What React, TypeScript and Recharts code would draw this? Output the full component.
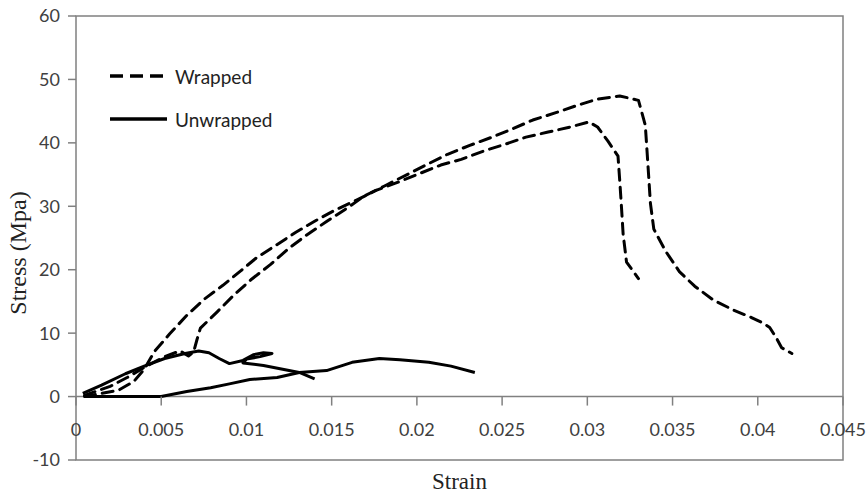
import React from "react";
import {
  LineChart,
  Line,
  XAxis,
  YAxis,
  ReferenceLine,
  ReferenceArea,
  Legend,
} from "recharts";

const CHART_W = 866;
const CHART_H = 495;
const MARGIN = { top: 16, right: 23, bottom: 0, left: 16 };
const Y_AXIS_W = 60;
const X_AXIS_H = 35;
const Y_MIN = -10;
const Y_MAX = 60;
const X_MAX = 0.045;
const PLOT_H = CHART_H - MARGIN.top - MARGIN.bottom - X_AXIS_H;
// distance from the plot bottom (-10) up to the zero line, where the x ticks sit
const ZERO_FROM_BOTTOM = (PLOT_H * (0 - Y_MIN)) / (Y_MAX - Y_MIN);

const AXIS = "#808080";
const TEXT = "#404040";
const SANS = "Lato, 'Open Sans', sans-serif";
const SERIF = "'Liberation Serif', 'DejaVu Serif', serif";

const xTicks = [0, 0.005, 0.01, 0.015, 0.02, 0.025, 0.03, 0.035, 0.04, 0.045];
const yTicks = [-10, 0, 10, 20, 30, 40, 50, 60];

// wrapped specimen 1 (lower peak)
const wrapped1Strain = [
  0.0005, 0.0025, 0.0034, 0.004, 0.0046, 0.0055, 0.0065, 0.0075, 0.0086, 0.0097,
  0.0106, 0.0117, 0.0129, 0.0141, 0.0152, 0.0164, 0.0176, 0.0189, 0.0201, 0.0214,
  0.0226, 0.0239, 0.0252, 0.0264, 0.0277, 0.029, 0.0301, 0.0306, 0.0312, 0.0318,
  0.0319, 0.032, 0.0321, 0.0323, 0.033,
];
const wrapped1Stress = [
  0, 1.0, 2.4, 4.3, 7.1, 9.9, 12.8, 15.3, 17.5, 19.9,
  21.9, 23.8, 25.9, 27.8, 29.4, 30.9, 32.5, 33.8, 35.1, 36.5,
  37.4, 38.7, 39.8, 40.9, 41.7, 42.5, 43.3, 42.5, 40.3, 37.9,
  34.1, 30.0, 25.6, 21.2, 18.6,
];

// wrapped specimen 2 (upper peak, long softening tail)
const wrapped2Strain = [
  0.0005, 0.002, 0.003, 0.004, 0.0052, 0.0061, 0.0066, 0.0069, 0.0071, 0.0073,
  0.0083, 0.0093, 0.0103, 0.0114, 0.0125, 0.0135, 0.0147, 0.0159, 0.0169, 0.0181,
  0.0195, 0.0206, 0.0218, 0.0231, 0.0244, 0.0256, 0.0268, 0.0282, 0.0294, 0.0306,
  0.0319, 0.033, 0.0334, 0.0335, 0.0336, 0.0337, 0.0339, 0.0346, 0.0354, 0.0363,
  0.0374, 0.0386, 0.0396, 0.0403, 0.0407, 0.0411, 0.0414, 0.042,
];
const wrapped2Stress = [
  0.2, 1.6, 3.0, 4.6, 6.3, 7.2, 6.4, 7.0, 9.0, 10.8,
  13.4, 16.1, 18.5, 20.8, 23.4, 25.4, 27.6, 29.7, 31.6, 33.2,
  35.1, 36.6, 38.2, 39.6, 40.9, 42.2, 43.6, 44.8, 45.9, 46.9,
  47.4, 46.7, 42.8, 38.8, 34.7, 30.5, 26.4, 22.9, 19.7, 17.4,
  15.2, 13.6, 12.5, 11.6, 10.9, 9.2, 7.7, 6.8,
];

// unwrapped specimen 1 (loops back near 0.011)
const unwrapped1Strain = [
  0.0004, 0.0015, 0.0029, 0.004, 0.0052, 0.0064, 0.0072, 0.0078, 0.0084, 0.009,
  0.0098, 0.0104, 0.011, 0.0115, 0.0108, 0.01, 0.0098, 0.011, 0.0125, 0.0131, 0.014,
];
const unwrapped1Stress = [
  0.5, 1.8, 3.6, 4.8, 6.0, 6.8, 7.2, 6.9, 6.0, 5.2,
  5.7, 6.6, 6.9, 6.8, 6.3, 5.9, 5.3, 4.9, 4.1, 3.8, 2.8,
];

// unwrapped specimen 2
const unwrapped2Strain = [
  0.0005, 0.003, 0.005, 0.0065, 0.0079, 0.009, 0.0102, 0.0118, 0.0131, 0.0147,
  0.0162, 0.0178, 0.019, 0.0207, 0.022, 0.0234,
];
const unwrapped2Stress = [
  0, 0, 0, 0.8, 1.4, 2.0, 2.7, 3.0, 3.8, 4.1,
  5.4, 6.0, 5.8, 5.4, 4.8, 3.8,
];

const legendItems = [
  { name: "Wrapped", dashed: true },
  { name: "Unwrapped", dashed: false },
];

const zip = (xs: number[], ys: number[]) => xs.map((x, i) => ({ x, y: ys[i] }));

const series = [
  { key: "w1", data: zip(wrapped1Strain, wrapped1Stress), dashed: true },
  { key: "w2", data: zip(wrapped2Strain, wrapped2Stress), dashed: true },
  { key: "u1", data: zip(unwrapped1Strain, unwrapped1Stress), dashed: false },
  { key: "u2", data: zip(unwrapped2Strain, unwrapped2Stress), dashed: false },
];

const XTick = (props: any) => {
  const { x, y, payload } = props;
  const y0 = y - ZERO_FROM_BOTTOM;
  return (
    <g>
      <line x1={x} x2={x} y1={y0} y2={y0 + 9} stroke={AXIS} strokeWidth={1.5} />
      <text
        x={x}
        y={y0 + 32}
        textAnchor="middle"
        dominantBaseline="central"
        fill={TEXT}
        fontSize={18}
        fontFamily={SANS}
      >
        {payload.value}
      </text>
    </g>
  );
};

const LegendBox = () => (
  <svg width={190} height={80}>
    {legendItems.map((item, i) => {
      const cy = 16 + i * 43;
      return (
        <g key={item.name}>
          <line
            x1={6}
            x2={63}
            y1={cy}
            y2={cy}
            stroke="#000"
            strokeWidth={3.5}
            strokeDasharray={item.dashed ? "13 7" : undefined}
          />
          <text
            x={71}
            y={cy}
            dominantBaseline="central"
            fill="#222"
            fontSize={19}
            fontFamily={SANS}
          >
            {item.name}
          </text>
        </g>
      );
    })}
  </svg>
);

export default function App() {
  return (
    <div style={{ position: "absolute", left: 0, top: 0, background: "#fff" }}>
      <LineChart width={CHART_W} height={CHART_H} margin={MARGIN}>
        <ReferenceArea
          x1={0}
          x2={X_MAX}
          y1={Y_MIN}
          y2={Y_MAX}
          fill="none"
          stroke={AXIS}
          strokeWidth={1.5}
        />
        <ReferenceLine y={0} stroke={AXIS} strokeWidth={1.5} />
        <XAxis
          type="number"
          dataKey="x"
          domain={[0, X_MAX]}
          ticks={xTicks}
          height={X_AXIS_H}
          axisLine={false}
          tickLine={false}
          tickSize={0}
          tickMargin={0}
          tick={<XTick />}
          interval={0}
          label={{
            content: (p: any) => {
              const vb = p.viewBox;
              return (
                <text
                  x={vb.x + vb.width / 2}
                  y={vb.y + 29}
                  textAnchor="middle"
                  fill="#222"
                  fontSize={23}
                  fontFamily={SERIF}
                >
                  Strain
                </text>
              );
            },
          }}
        />
        <YAxis
          type="number"
          domain={[Y_MIN, Y_MAX]}
          ticks={yTicks}
          width={Y_AXIS_W}
          axisLine={false}
          tickLine={{ stroke: AXIS, strokeWidth: 1.5 }}
          tickSize={8}
          tickMargin={8}
          interval={0}
          tick={{ fill: TEXT, fontSize: 18, fontFamily: SANS }}
          label={{
            content: (p: any) => {
              const vb = p.viewBox;
              const cx = vb.x + 2;
              const cy = vb.y + vb.height / 2 + 15;
              return (
                <text
                  x={cx}
                  y={cy}
                  transform={`rotate(-90 ${cx} ${cy})`}
                  textAnchor="middle"
                  dominantBaseline="central"
                  fill="#222"
                  fontSize={24}
                  fontFamily={SERIF}
                >
                  Stress (Mpa)
                </text>
              );
            },
          }}
        />
        <Legend
          layout="horizontal"
          verticalAlign="middle"
          align="center"
          content={<LegendBox />}
          wrapperStyle={{ top: 60, left: 104, width: 190 }}
        />
        {series.map((s) => (
          <Line
            key={s.key}
            data={s.data}
            dataKey="y"
            type="linear"
            stroke="#000"
            strokeWidth={3}
            strokeDasharray={s.dashed ? "11 7" : undefined}
            strokeLinecap={s.dashed ? "round" : "butt"}
            strokeLinejoin="round"
            dot={false}
            activeDot={false}
            legendType="none"
            isAnimationActive={false}
          />
        ))}
      </LineChart>
    </div>
  );
}
